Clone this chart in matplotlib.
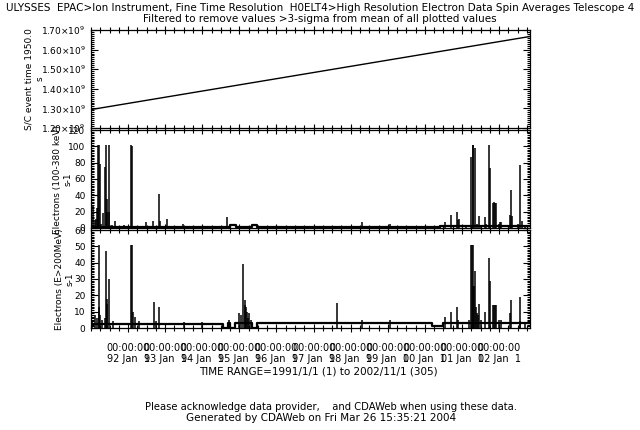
import matplotlib
matplotlib.use("Agg")
import matplotlib.pyplot as plt
from matplotlib.ticker import MultipleLocator, FixedLocator, FuncFormatter

plt.rcParams['font.family'] = ['DejaVu Sans']
plt.rcParams['font.size'] = 6.5

# ---- data (time in decimal years) ----
time_range = [1991.0, 2002.833]
year_ticks = [1992, 1993, 1994, 1995, 1996, 1997, 1998, 1999, 2000, 2001, 2002]

# Panel 1: S/C event time since 1950.0 (s)
sc_t = [1991.0, 2002.833]
sc_v = [1.294e9, 1.667e9]

# Panel 2: Electrons (100-380 keV) spikes
mid_t = [1991.054, 1991.10, 1991.127, 1991.16, 1991.18, 1991.197, 1991.224, 1991.243,
         1991.27, 1991.33, 1991.385, 1991.40, 1991.42, 1991.44, 1991.477, 1991.49,
         1991.56, 1991.64, 1991.75, 1991.9, 1992.078, 1992.105, 1992.2, 1992.474,
         1992.68, 1992.833, 1992.86, 1993.04, 1993.47, 1994.3, 1994.66, 1995.6,
         1996.9, 1997.2, 1998.313, 1998.6, 1998.8, 1999.067, 1999.6, 2000.3,
         2000.55, 2000.71, 2000.865, 2000.89, 2000.93, 2001.1, 2001.25, 2001.29,
         2001.305, 2001.36, 2001.41, 2001.467, 2001.52, 2001.63, 2001.66, 2001.735,
         2001.763, 2001.84, 2001.87, 2001.89, 2001.916, 2002.0, 2002.03, 2002.06,
         2002.29, 2002.33, 2002.36, 2002.5, 2002.57, 2002.62, 2002.7]
mid_v = [27, 10, 11, 25, 25, 102, 102, 78,
         5, 18, 75, 102, 35, 20, 20, 102,
         4, 9, 3, 4, 102, 100, 3, 7,
         8, 42, 8, 11, 5, 2, 14, 2,
         2, 2, 7, 3, 2, 5, 2, 3,
         7, 16, 20, 10, 11, 3, 87, 102,
         102, 98, 5, 15, 4, 13, 5, 102,
         74, 31, 32, 31, 31, 5, 7, 7,
         16, 47, 15, 5, 77, 8, 4]
mid_base_t = [1991.0, 1994.75, 1994.91, 1995.33, 1995.47, 2000.4, 2002.833]
mid_base_v = [1.5, 4, 1.5, 4, 1.2, 2.5, 2.5]

# Panel 3: Electrons (E>200MeV) spikes
bot_t = [1991.03, 1991.10, 1991.16, 1991.21, 1991.224, 1991.243, 1991.30, 1991.385,
         1991.40, 1991.42, 1991.44, 1991.49, 1991.60, 1992.078, 1992.105, 1992.12,
         1992.18, 1992.3, 1992.70, 1992.75, 1992.833, 1993.5, 1994.0, 1994.72,
         1995.00, 1995.035, 1995.105, 1995.14, 1995.16, 1995.18, 1995.197, 1995.24,
         1995.27, 1995.30, 1997.64, 1998.313, 1999.067, 2000.55, 2000.71, 2000.865,
         2000.89, 2001.20, 2001.24, 2001.27, 2001.29, 2001.305, 2001.33, 2001.36,
         2001.38, 2001.40, 2001.44, 2001.467, 2001.50, 2001.63, 2001.735, 2001.763,
         2001.84, 2001.87, 2001.89, 2001.916, 2002.0, 2002.06, 2002.29, 2002.33,
         2002.56, 2002.57, 2002.7]
bot_v = [4, 8, 6, 51, 13, 8, 5, 6,
         47, 18, 15, 30, 4, 51, 51, 10,
         7, 4, 16, 4, 13, 3.5, 3.5, 5,
         9, 8, 39, 17, 14, 13, 10, 6,
         9, 5, 15.5, 5, 5, 7, 10, 13,
         5, 5, 51, 51, 51, 26, 26, 35,
         13, 9, 8, 15, 5, 10, 43, 29,
         14, 14, 14, 14, 5, 5, 9, 17,
         4, 19, 3]
bot_base_t = [1991.0, 1994.56, 1994.69, 1994.75, 1994.88, 1995.33, 1995.47, 2000.2, 2000.5, 2002.833]
bot_base_v = [2.3, 0, 3, 0, 3, 0, 2.8, 1.5, 2.8, 2.8]

# ---- figure ----
fig = plt.figure(figsize=(6.4, 4.3), dpi=100)
L, W = 91 / 640, 439 / 640
H = 98 / 430
ax1 = fig.add_axes([L, 1 - 128 / 430, W, H])
ax2 = fig.add_axes([L, 1 - 228 / 430, W, H])
ax3 = fig.add_axes([L, 1 - 328 / 430, W, H])

ax1.plot(sc_t, sc_v, color='black', lw=1.0)
ax2.plot(mid_base_t, mid_base_v, color='black', lw=1.6, drawstyle='steps-post')
ax2.vlines(mid_t, 0, mid_v, color='black', lw=1.1)
ax3.plot(bot_base_t, bot_base_v, color='black', lw=1.6, drawstyle='steps-post')
ax3.vlines(bot_t, 0, bot_v, color='black', lw=1.1)

ax1.set_ylim(1.2e9, 1.7e9)
ax1.yaxis.set_major_locator(MultipleLocator(0.1e9))
ax1.yaxis.set_minor_locator(MultipleLocator(0.01e9))
ax1.yaxis.set_major_formatter(FuncFormatter(lambda v, p: f"{v/1e9:.2f}×10$^9$"))

ax2.set_ylim(0, 120)
ax2.yaxis.set_major_locator(MultipleLocator(20))
ax2.yaxis.set_minor_locator(MultipleLocator(2))

ax3.set_ylim(0, 60)
ax3.yaxis.set_major_locator(MultipleLocator(10))
ax3.yaxis.set_minor_locator(MultipleLocator(1))

labels = [f"00:00:00\n{y % 100:02d} Jan  1" for y in year_ticks]
for ax in (ax1, ax2, ax3):
    ax.set_xlim(time_range[0], time_range[1])
    ax.xaxis.set_major_locator(FixedLocator(year_ticks))
    ax.xaxis.set_minor_locator(MultipleLocator(0.25))
    ax.tick_params(axis='x', which='both', direction='inout', top=True, bottom=True,
                   labelbottom=False)
    ax.tick_params(axis='x', which='major', length=6, width=0.8)
    ax.tick_params(axis='x', which='minor', length=4, width=0.8)
    ax.tick_params(axis='y', which='both', direction='in', left=True, right=True, width=0.8)
    ax.tick_params(axis='y', which='major', length=5, pad=4)
    ax.tick_params(axis='y', which='minor', length=2.5)
    for s in ax.spines.values():
        s.set_linewidth(0.9)

ax3.set_xticklabels(labels)
ax3.tick_params(axis='x', which='major', labelbottom=True, pad=8, labelsize=7)
for t in ax3.get_xticklabels():
    t.set_linespacing(1.05)

ylabs = [(ax1, "S/C event time 1950.0\ns", -0.129),
         (ax2, "Electrons (100-380 keV)\ns-1", -0.064),
         (ax3, "Electrons (E>200MeV)\ns-1", -0.059)]
for ax, txt, xp in ylabs:
    ax.text(xp, 0.5, txt, transform=ax.transAxes, rotation=90, ha='center',
            va='center', multialignment='center', linespacing=1.25)

fs = 7.5
fig.text(0.5, 1 - 8 / 430, "ULYSSES  EPAC>Ion Instrument, Fine Time Resolution  "
         "H0ELT4>High Resolution Electron Data Spin Averages Telescope 4",
         ha='center', va='center', fontsize=fs)
fig.text(0.5, 1 - 19 / 430, "Filtered to remove values >3-sigma from mean of all plotted values",
         ha='center', va='center', fontsize=fs)
fig.text(0.497, 1 - 372 / 430, "TIME RANGE=1991/1/1 (1) to 2002/11/1 (305)",
         ha='center', va='center', fontsize=fs)
fig.text(0.517, 1 - 407 / 430, "Please acknowledge data provider,    and CDAWeb when using these data.",
         ha='center', va='center', fontsize=7.2)
fig.text(0.502, 1 - 418 / 430, "Generated by CDAWeb on Fri Mar 26 15:35:21 2004",
         ha='center', va='center', fontsize=fs)

fig.savefig("out.png", dpi=100)
